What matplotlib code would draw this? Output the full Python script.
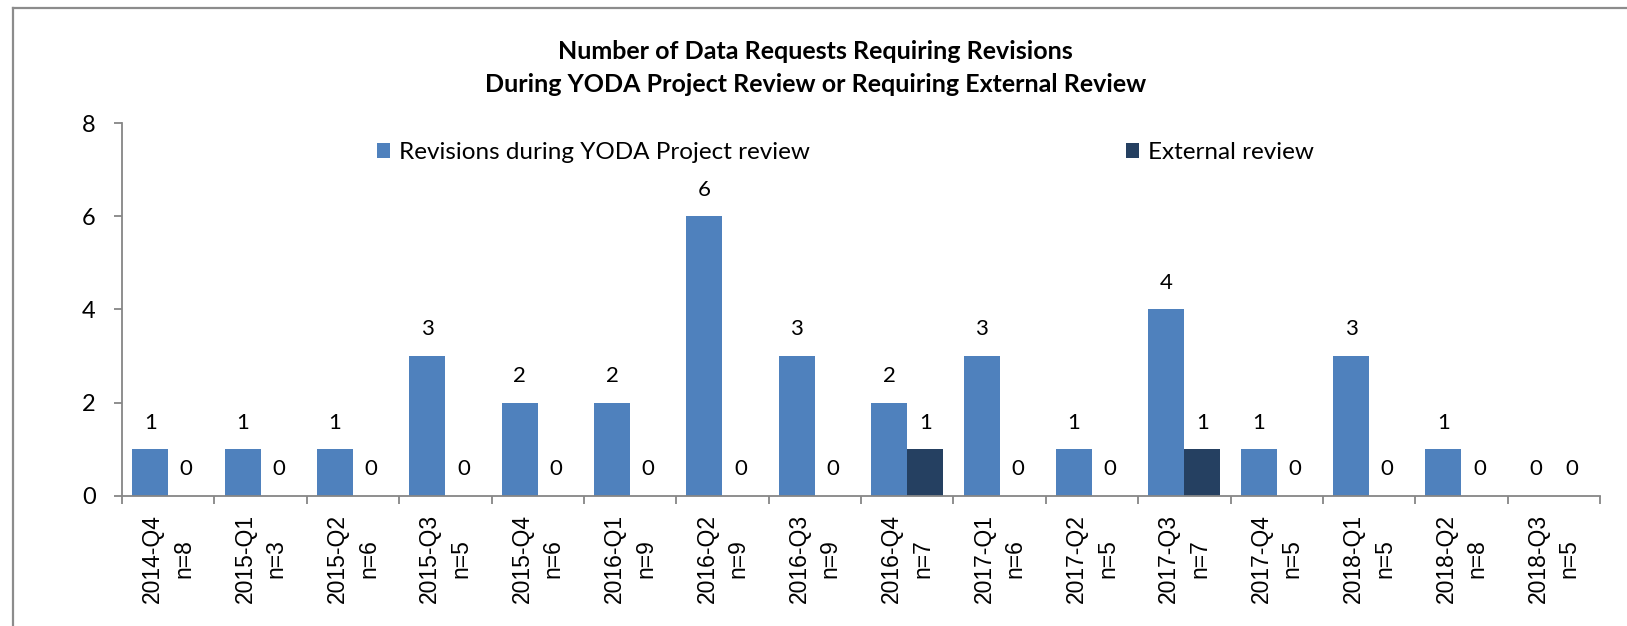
import numpy as np
import matplotlib
matplotlib.use("Agg")
import matplotlib.pyplot as plt
from matplotlib.lines import Line2D

quarters = ["2014-Q4", "2015-Q1", "2015-Q2", "2015-Q3", "2015-Q4", "2016-Q1",
            "2016-Q2", "2016-Q3", "2016-Q4", "2017-Q1", "2017-Q2", "2017-Q3",
            "2017-Q4", "2018-Q1", "2018-Q2", "2018-Q3"]
n_requests = [8, 3, 6, 5, 6, 9, 9, 9, 7, 6, 5, 7, 5, 5, 8, 5]
revisions = [1, 1, 1, 3, 2, 2, 6, 3, 2, 3, 1, 4, 1, 3, 1, 0]
external = [0, 0, 0, 0, 0, 0, 0, 0, 1, 0, 0, 1, 0, 0, 0, 0]

blue = "#4F81BD"
navy = "#254061"
grey = "#868686"

fig = plt.figure(figsize=(16.27, 6.26), dpi=100)
ax = fig.add_axes([0.075, 0.2077, 0.9084, 0.5958])

x = np.arange(len(quarters))
w = 0.39
b1 = ax.bar(x - w/2, revisions, w, color=blue, label="Revisions during YODA Project review")
b2 = ax.bar(x + w/2, external, w, color=navy, label="External review")

# value labels
for bars in (b1, b2):
	for r in bars:
		h = r.get_height()
		ax.annotate(str(int(h)), (r.get_x() + r.get_width()/2, h), xytext=(0, 12),
			textcoords="offset points", ha="center", va="bottom", fontsize=16, family="Lato")

ax.set_xlim(-0.5, len(quarters) - 0.5)
ax.set_ylim(0, 8)
ax.set_yticks([0, 2, 4, 6, 8])
ax.tick_params(axis="y", labelsize=17, color=grey, length=6, width=1.3, pad=13)
for lab in ax.get_yticklabels():
	lab.set_family("Lato")

# ticks at group boundaries, labels in the middle
ax.set_xticks(np.arange(len(quarters) + 1) - 0.5)
ax.set_xticklabels([])
ax.tick_params(axis="x", color=grey, length=6, width=1.3)
for i, q in enumerate(quarters):
	ax.annotate(q + "\nn=" + str(n_requests[i]), (i, 0), xytext=(0, -13),
		textcoords="offset points", rotation=90, ha="center", va="top",
		multialignment="center", fontsize=16.5, family="Liberation Sans", linespacing=1.45)

for s in ("top", "right"):
	ax.spines[s].set_visible(False)
for s in ("left", "bottom"):
	ax.spines[s].set_color(grey)
	ax.spines[s].set_linewidth(1.3)

fig.text(0.501, 0.891, "Number of Data Requests Requiring Revisions\nDuring YODA Project Review or Requiring External Review",
	ha="center", va="center", fontsize=18, fontweight="bold", family="Lato", linespacing=1.55)

ax.legend(loc="center left", bbox_to_anchor=(0.166, 0.92), ncol=2, frameon=False,
	prop={"family": "Lato", "size": 17.5}, handlelength=0.55, handleheight=0.55,
	handletextpad=0.35, columnspacing=13.0, borderaxespad=0)

# outer border (chart area)
fig.add_artist(Line2D([13/1627, 13/1627], [0, 1 - 8/626], color="#8c8c8c", lw=1.6))
fig.add_artist(Line2D([13/1627, 1], [1 - 8/626, 1 - 8/626], color="#8c8c8c", lw=1.6))

fig.savefig("out.png", dpi=100)
